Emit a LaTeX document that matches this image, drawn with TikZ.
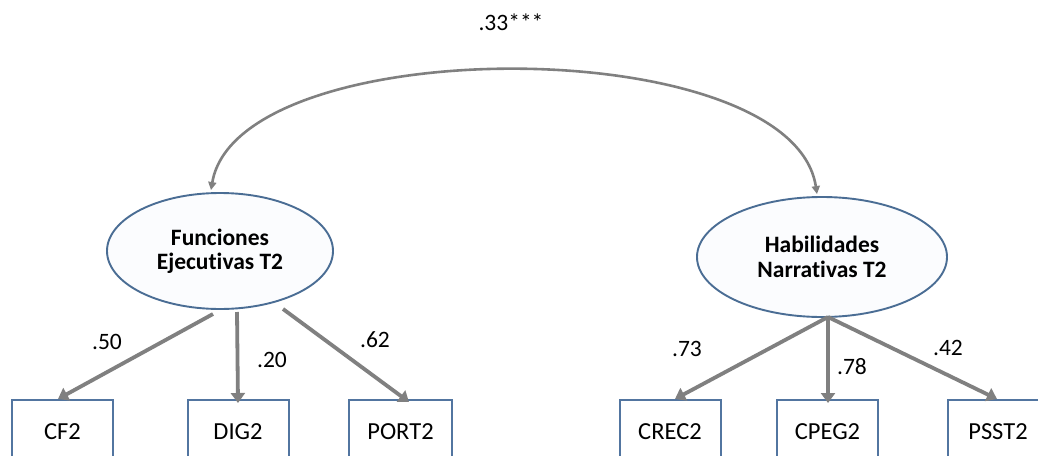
\documentclass[tikz,border=0pt]{standalone}
\usepackage{fontspec}
\setmainfont[Ligatures={NoCommon}]{Carlito}
\usetikzlibrary{arrows.meta,shapes.geometric,calc}
\definecolor{edgeblue}{HTML}{4A6D94}
\definecolor{boxblue}{HTML}{5275A0}
\definecolor{arrowgray}{HTML}{808080}
\definecolor{latfill}{HTML}{FBFCFE}
\tikzset{
  latent/.style={ellipse, draw=edgeblue, line width=1.9pt, fill=latfill,
    minimum width=226pt, minimum height=116pt, inner sep=0pt,
    align=center, font=\fontsize{23.5}{24.5}\selectfont\bfseries},
  obsbox/.style={rectangle, draw=boxblue, line width=2pt, fill=white,
    minimum width=101pt, minimum height=64pt, anchor=north,
    font=\fontsize{24.5}{26}\selectfont},
  loading/.style={draw=arrowgray, line width=3.8pt,
    -{Triangle[length=10pt,width=14pt]}},
  corr/.style={draw=arrowgray, line width=2.6pt,
    {Triangle[length=8pt,width=8pt]}-{Triangle[length=8pt,width=8pt]}},
  coef/.style={font=\fontsize{23.5}{26}\selectfont, inner sep=0pt}
}
\begin{document}
\begin{tikzpicture}[x=1pt,y=-1pt]
\clip (0,0) rectangle (1038,455);
\fill[white] (0,0) rectangle (1038,455);
% latent variables
\node[latent] (fe) at (220,251) {Funciones\\Ejecutivas T2};
\node[latent, minimum width=250pt, minimum height=120pt] (hn) at (822,257) {Habilidades\\Narrativas T2};
% observed
\node[obsbox] (cf) at (62.5,399) {CF2};
\node[obsbox] (dig) at (238,399) {DIG2};
\node[obsbox, minimum width=103pt] (port) at (400.5,399) {PORT2};
\node[obsbox] (crec) at (670,399) {CREC2};
\node[obsbox] (cpeg) at (827.5,399) {CPEG2};
\node[obsbox] (psst) at (998,399) {PSST2};
% start points of loadings
\coordinate (fe1) at ($(fe.center)+(-7,63)$);
\coordinate (fe2) at ($(fe.center)+(17,61)$);
\coordinate (fe3) at ($(fe.center)+(63,58)$);
\coordinate (hn0) at ($(hn.center)+(6,60)$);
% loadings
\draw[loading] (fe1) -- ([xshift=-4.5pt]cf.north);
\draw[loading] (fe2) -- ([yshift=-4pt]dig.north);
\draw[loading] (fe3) -- ([xshift=8.5pt,yshift=-3pt]port.north);
\draw[loading] (hn0) -- ([xshift=5pt]crec.north);
\draw[loading] (hn0) -- ([xshift=0.5pt,yshift=-4pt]cpeg.north);
\draw[loading] (hn0) -- ([xshift=-1pt]psst.north);
% coefficients
\node[coef] (l50) at (107,342) {.50};
\node[coef] (l20) at (272,360) {.20};
\node[coef] (l62) at (375,340) {.62};
\node[coef] (l73) at (687,349) {.73};
\node[coef] (l78) at (852,367) {.78};
\node[coef] (l42) at (948,348) {.42};
% correlation
\coordinate (c1) at ($(fe.north)+(-9,-2)$);
\coordinate (c2) at ($(hn.north)+(-5,-2)$);
\draw[corr] (c1) .. controls (238,30) and (792,30) .. (c2);
\node[coef] (r) at (511,22) {.33***};
\end{tikzpicture}
\end{document}
